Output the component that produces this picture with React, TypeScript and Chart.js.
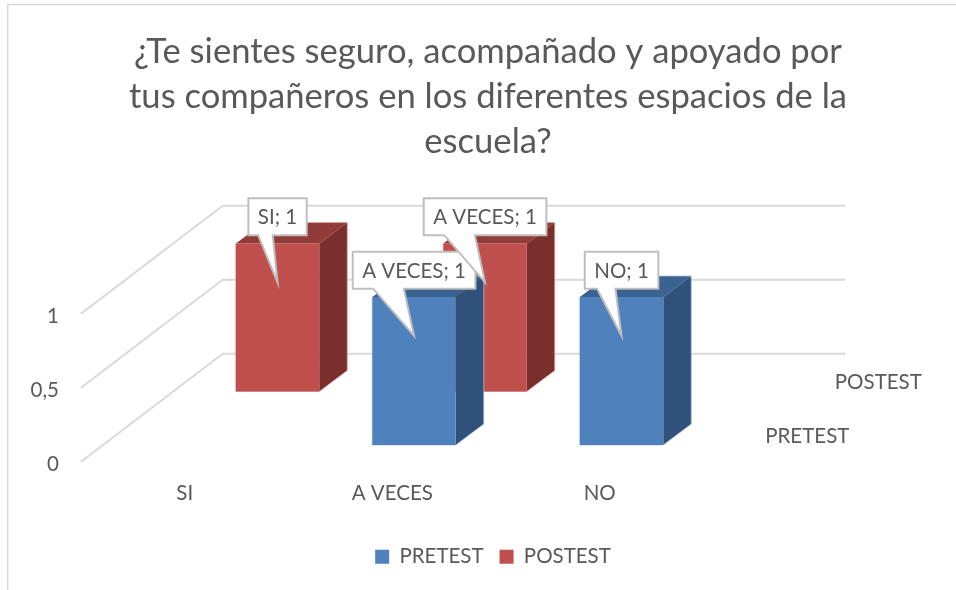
import React, { useEffect, useRef } from "react";
import { Chart, registerables } from "chart.js";

Chart.register(...registerables);

const titleLines = [
  "¿Te sientes seguro, acompañado y apoyado por",
  "tus compañeros en los diferentes espacios de la",
  "escuela?",
];
const categories = ["SI", "A VECES", "NO"];
const pretestValues = [null, 1, 1];
const postestValues = [1, 1, null];
const seriesNames = ["PRETEST", "POSTEST"];
const yTicks = [0, 0.5, 1];

const FONT = "Lato";
const TEXT = "#595959";
const faces = [
  { front: "#4f81bd", top: "#3b6391", side: "#30527a", edge: "#a9c0dc", dx: 21.8, dy: -16.7 },
  { front: "#c0504d", top: "#923c3a", side: "#7a2f2d", edge: "#dba5a3", dx: 92.8, dy: -70.2 },
];
const WALL = { dx: 141.7, dy: -108 };
const BAR_DEPTH = { dx: 28, dy: -21 };
const LABEL_SIZE = 20.5;
const PAD_BOTTOM = 13;

const chart3d = {
  id: "chart3d",
  afterLayout(chart: any) {
    chart.legend.left += 5;
    chart.legend.right += 5;
  },
  beforeDraw(chart: any) {
    const { ctx, width, height } = chart;
    ctx.save();
    ctx.strokeStyle = "#d9d9d9";
    ctx.lineWidth = 1.5;
    ctx.beginPath();
    ctx.moveTo(width, 4.5);
    ctx.lineTo(7.7, 4.5);
    ctx.lineTo(7.7, height);
    ctx.stroke();
    ctx.restore();
  },
  beforeDatasetsDraw(chart: any) {
    const { ctx, chartArea, scales } = chart;
    ctx.save();
    ctx.strokeStyle = "#d9d9d9";
    ctx.lineWidth = 2;
    ctx.lineJoin = "round";
    for (const t of yTicks) {
      const y = scales.y.getPixelForValue(t);
      ctx.beginPath();
      ctx.moveTo(chartArea.left, y);
      ctx.lineTo(chartArea.left + WALL.dx, y + WALL.dy);
      ctx.lineTo(chartArea.right + WALL.dx, y + WALL.dy);
      ctx.stroke();
    }
    ctx.fillStyle = TEXT;
    ctx.font = `${LABEL_SIZE}px ${FONT}`;
    ctx.textAlign = "center";
    ctx.textBaseline = "middle";
    const y0 = scales.y.getPixelForValue(0);
    chart.data.datasets.forEach((ds: any, i: number) => {
      ctx.fillText(ds.label, chartArea.right + faces[i].dx + 82, y0 + faces[i].dy - 9);
    });
    ctx.restore();
  },
  beforeDatasetDraw(chart: any, args: any) {
    const { ctx } = chart;
    const f = faces[args.index];
    const values = chart.data.datasets[args.index].data;
    ctx.save();
    ctx.translate(f.dx, f.dy);
    args.meta.data.forEach((bar: any, j: number) => {
      if (values[j] == null) return;
      const l = bar.x - bar.width / 2;
      const r = bar.x + bar.width / 2;
      const d = BAR_DEPTH;
      ctx.fillStyle = f.top;
      ctx.beginPath();
      ctx.moveTo(l, bar.y);
      ctx.lineTo(l + d.dx, bar.y + d.dy);
      ctx.lineTo(r + d.dx, bar.y + d.dy);
      ctx.lineTo(r, bar.y);
      ctx.closePath();
      ctx.fill();
      ctx.fillStyle = f.side;
      ctx.beginPath();
      ctx.moveTo(r, bar.y);
      ctx.lineTo(r + d.dx, bar.y + d.dy);
      ctx.lineTo(r + d.dx, bar.base + d.dy);
      ctx.lineTo(r, bar.base);
      ctx.closePath();
      ctx.fill();
      ctx.strokeStyle = f.edge;
      ctx.lineWidth = 0.75;
      ctx.beginPath();
      ctx.moveTo(l + d.dx, bar.y + d.dy);
      ctx.lineTo(r + d.dx, bar.y + d.dy);
      ctx.lineTo(r + d.dx, bar.base + d.dy);
      ctx.lineTo(r, bar.base);
      ctx.lineTo(l, bar.base);
      ctx.lineTo(l, bar.y);
      ctx.stroke();
    });
  },
  afterDatasetDraw(chart: any) {
    chart.ctx.restore();
  },
  afterDatasetsDraw(chart: any) {
    const { ctx } = chart;
    ctx.save();
    ctx.font = `${LABEL_SIZE}px ${FONT}`;
    ctx.textAlign = "center";
    ctx.textBaseline = "middle";
    chart.data.datasets.forEach((ds: any, i: number) => {
      const f = faces[i];
      chart.getDatasetMeta(i).data.forEach((bar: any, j: number) => {
        if (ds.data[j] == null) return;
        const text = `${categories[j]}; ${ds.data[j]}`;
        const tipX = bar.x + f.dx;
        const tipY = bar.y + f.dy + 39;
        const w = ctx.measureText(text).width + 19;
        const left = tipX - w / 2;
        const right = tipX + w / 2;
        const top = tipY - 84.3;
        const bottom = top + 37;
        ctx.beginPath();
        ctx.moveTo(left, top);
        ctx.lineTo(right, top);
        ctx.lineTo(right, bottom);
        ctx.lineTo(left + w * 0.417, bottom);
        ctx.lineTo(tipX, tipY);
        ctx.lineTo(left + w * 0.167, bottom);
        ctx.lineTo(left, bottom);
        ctx.closePath();
        ctx.fillStyle = "#ffffff";
        ctx.strokeStyle = "#bfbfbf";
        ctx.lineWidth = 2;
        ctx.lineJoin = "miter";
        ctx.fill();
        ctx.stroke();
        ctx.fillStyle = TEXT;
        ctx.fillText(text, tipX, (top + bottom) / 2 + 1);
      });
    });
    ctx.restore();
  },
};

export default function App() {
  const ref = useRef<HTMLCanvasElement>(null);
  useEffect(() => {
    const chart = new Chart(ref.current as any, {
      type: "bar",
      plugins: [chart3d],
      data: {
        labels: categories,
        datasets: [
          { label: seriesNames[0], data: pretestValues, backgroundColor: faces[0].front, clip: false },
          { label: seriesNames[1], data: postestValues, backgroundColor: faces[1].front, clip: false },
        ],
      } as any,
      options: {
        responsive: false,
        animation: false,
        layout: { padding: { left: 20, right: 0, top: 0, bottom: PAD_BOTTOM } },
        datasets: { bar: { grouped: false, barPercentage: 0.402, categoryPercentage: 1 } },
        font: { family: FONT },
        scales: {
          x: {
            grid: { display: false, drawTicks: false },
            border: { display: false },
            ticks: { color: TEXT, font: { family: FONT, size: LABEL_SIZE }, padding: 19, maxRotation: 0 },
            afterFit(scale: any) {
              const legendH = scale.chart.legend ? scale.chart.legend.height : 0;
              scale.height = 590 - PAD_BOTTOM - legendH - 461.7;
            },
          },
          y: {
            min: 0,
            max: 1,
            grid: { display: false, drawTicks: false },
            border: { display: false },
            ticks: {
              stepSize: 0.5,
              color: TEXT,
              padding: 22,
              font: { family: FONT, size: LABEL_SIZE },
              callback: (v: any) => String(v).replace(".", ","),
            },
            afterFit(scale: any) {
              scale.width = 61;
            },
            afterUpdate(scale: any) {
              if (scale.__shifted) return;
              scale.__shifted = true;
              const draw = scale.drawLabels;
              scale.drawLabels = function (area: any) {
                this.ctx.save();
                this.ctx.translate(0, 2.5);
                draw.call(this, area);
                this.ctx.restore();
              };
            },
          },
          depthSpace: {
            type: "linear",
            position: "right",
            display: true,
            grid: { display: false },
            border: { display: false },
            ticks: { display: false },
            afterFit(scale: any) {
              scale.width = 252.5;
            },
          },
        },
        plugins: {
          title: {
            display: true,
            text: titleLines,
            color: TEXT,
            font: { family: FONT, size: 34.6, weight: "normal", lineHeight: 45 / 34.6 },
            padding: { top: 29.5, bottom: 149.2 },
          },
          legend: {
            position: "bottom",
            labels: {
              color: TEXT,
              font: { family: FONT, size: LABEL_SIZE },
              boxWidth: 14,
              boxHeight: 14,
              padding: 16,
            },
          },
          tooltip: { enabled: false },
        },
      } as any,
    });
    return () => chart.destroy();
  }, []);
  return (
    <div style={{ position: "absolute", left: 0, top: 0, width: 956, height: 590, background: "#fff" }}>
      <canvas ref={ref} width={956} height={590} style={{ display: "block" }} />
    </div>
  );
}
